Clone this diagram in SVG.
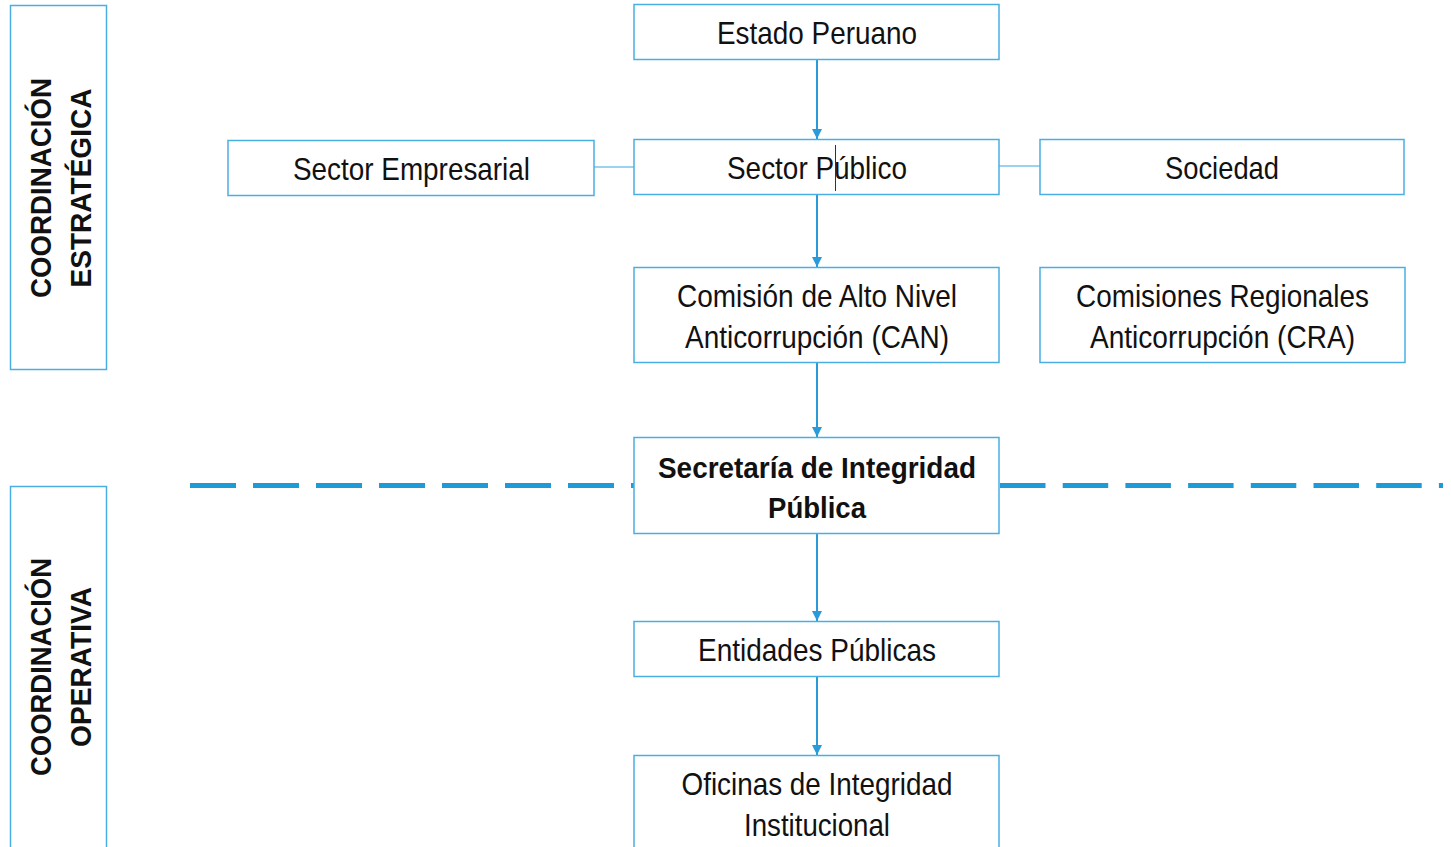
<svg xmlns="http://www.w3.org/2000/svg" width="1451" height="847" viewBox="0 0 1451 847">
<style>
.box{fill:#fff;stroke:#4aaee3;stroke-width:1.5}
.t{font-family:"Liberation Sans Narrow","Liberation Sans",Arial,sans-serif;font-size:32px;fill:#111;text-anchor:middle}
.b{font-family:"Liberation Sans Narrow","Liberation Sans",Arial,sans-serif;font-size:30px;font-weight:bold;fill:#111;text-anchor:middle}
.c{stroke:#2a9bd8;stroke-width:2;fill:none}
.h{stroke:#7cc3ea;stroke-width:1.5;fill:none}
.d{stroke:#1e9bd7;stroke-width:5;stroke-dasharray:46 17}
</style>
<defs>
<marker id="ah" viewBox="0 0 10 10" refX="10" refY="5" markerWidth="10" markerHeight="10" markerUnits="userSpaceOnUse" orient="auto">
<path d="M0,0 L10,5 L0,10 z" fill="#2a9bd8"/>
</marker>
</defs>
<g id="divider">
<line class="d" x1="190" y1="485.5" x2="634" y2="485.5"/>
<line class="d" x1="1000" y1="485.5" x2="1443" y2="485.5" style="stroke-dasharray:45.5 17.2"/>
</g>
<g id="connectors">
<line class="c" x1="817" y1="59" x2="817" y2="139" marker-end="url(#ah)"/>
<line class="c" x1="817" y1="194" x2="817" y2="267" marker-end="url(#ah)"/>
<line class="c" x1="817" y1="362" x2="817" y2="437" marker-end="url(#ah)"/>
<line class="c" x1="817" y1="533" x2="817" y2="621" marker-end="url(#ah)"/>
<line class="c" x1="817" y1="676" x2="817" y2="755" marker-end="url(#ah)"/>
<line class="h" x1="594" y1="167" x2="634" y2="167"/>
<line class="h" x1="999" y1="166" x2="1040" y2="166"/>
</g>
<g id="coord-estrategica">
<rect class="box" x="10.5" y="5.5" width="96" height="364"/>
<text class="b" transform="translate(51,188) rotate(-90)" textLength="220" lengthAdjust="spacingAndGlyphs">COORDINACIÓN</text>
<text class="b" transform="translate(91,188) rotate(-90)" textLength="199" lengthAdjust="spacingAndGlyphs">ESTRATÉGICA</text>
</g>
<g id="coord-operativa">
<rect class="box" x="10.5" y="486.5" width="96" height="370"/>
<text class="b" transform="translate(51,667) rotate(-90)" textLength="218" lengthAdjust="spacingAndGlyphs">COORDINACIÓN</text>
<text class="b" transform="translate(91,667) rotate(-90)" textLength="160" lengthAdjust="spacingAndGlyphs">OPERATIVA</text>
</g>
<g id="estado-peruano">
<rect class="box" x="634" y="4.5" width="365" height="55"/>
<text class="t" x="817" y="44" textLength="200" lengthAdjust="spacingAndGlyphs">Estado Peruano</text>
</g>
<g id="sector-empresarial">
<rect class="box" x="228" y="140.5" width="366" height="55"/>
<text class="t" x="411.5" y="180" textLength="237" lengthAdjust="spacingAndGlyphs">Sector Empresarial</text>
</g>
<g id="sector-publico">
<rect class="box" x="634" y="139.5" width="365" height="55"/>
<text class="t" x="817" y="179" textLength="180" lengthAdjust="spacingAndGlyphs">Sector Público</text>
<line x1="835.5" y1="145" x2="835.5" y2="191" stroke="#333" stroke-width="1"/>
</g>
<g id="sociedad">
<rect class="box" x="1040" y="139.5" width="364" height="55"/>
<text class="t" x="1222" y="179" textLength="114" lengthAdjust="spacingAndGlyphs">Sociedad</text>
</g>
<g id="can">
<rect class="box" x="634" y="267.5" width="365" height="95"/>
<text class="t" x="817" y="307" textLength="280" lengthAdjust="spacingAndGlyphs">Comisión de Alto Nivel</text>
<text class="t" x="817" y="348" textLength="264" lengthAdjust="spacingAndGlyphs">Anticorrupción (CAN)</text>
</g>
<g id="cra">
<rect class="box" x="1040" y="267.5" width="365" height="95"/>
<text class="t" x="1222.5" y="307" textLength="293" lengthAdjust="spacingAndGlyphs">Comisiones Regionales</text>
<text class="t" x="1222.5" y="348" textLength="265" lengthAdjust="spacingAndGlyphs">Anticorrupción (CRA)</text>
</g>
<g id="secretaria">
<rect class="box" x="634" y="437.5" width="365" height="96"/>
<text class="b" x="817" y="478" textLength="318" lengthAdjust="spacingAndGlyphs">Secretaría de Integridad</text>
<text class="b" x="817" y="518" textLength="98" lengthAdjust="spacingAndGlyphs">Pública</text>
</g>
<g id="entidades">
<rect class="box" x="634" y="621.5" width="365" height="55"/>
<text class="t" x="817" y="661" textLength="238" lengthAdjust="spacingAndGlyphs">Entidades Públicas</text>
</g>
<g id="oficinas">
<rect class="box" x="634" y="755.5" width="365" height="100"/>
<text class="t" x="817" y="795" textLength="271" lengthAdjust="spacingAndGlyphs">Oficinas de Integridad</text>
<text class="t" x="817" y="836" textLength="146" lengthAdjust="spacingAndGlyphs">Institucional</text>
</g>
</svg>
